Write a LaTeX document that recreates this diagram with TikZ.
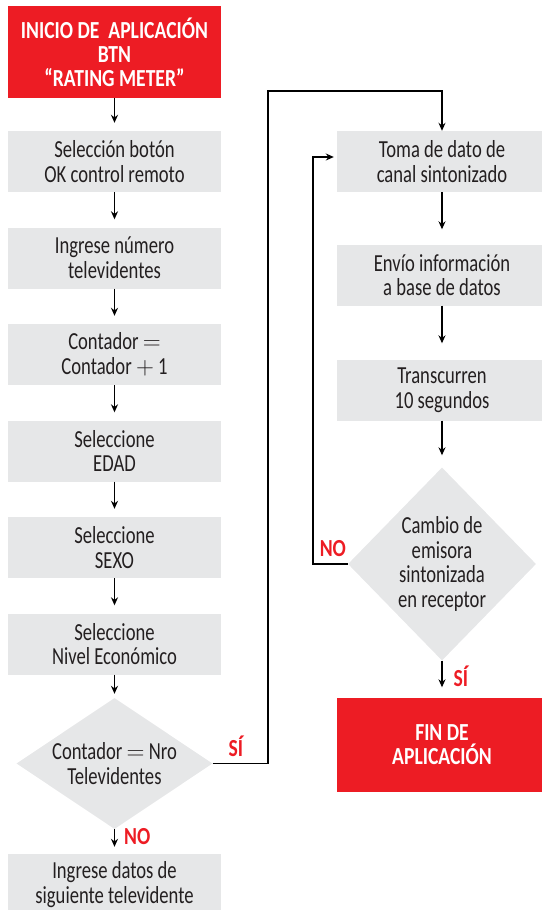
\documentclass[tikz,border=0pt]{standalone}
\usepackage{fontspec}
\setmainfont{Carlito}[FakeStretch=0.76,BoldFeatures={FakeStretch=0.8}]
\usetikzlibrary{positioning,shapes.geometric,arrows.meta}
\definecolor{rojo}{HTML}{ED1C24}
\definecolor{gris}{HTML}{E6E7E8}
\definecolor{tinta}{HTML}{231F20}

\begin{document}
\begin{tikzpicture}[x=1pt,y=1pt,node distance=96.5pt,on grid,
    >={Stealth[length=8pt,width=7pt]},
    every node/.style={font=\fontsize{24.5}{24.6}\selectfont,align=center,text=tinta},
    box/.style={rectangle,fill=gris,minimum width=213pt,minimum height=61pt,inner sep=0pt},
    rbox/.style={box,minimum width=210pt},
    term/.style={rectangle,fill=rojo,text=white,inner sep=0pt,
        font=\fontsize{24.5}{24}\selectfont\bfseries},
    decide/.style={diamond,fill=gris,inner sep=0pt,aspect=1.5,
        minimum width=196pt,minimum height=131pt},
    lab/.style={text=rojo,inner sep=0pt,font=\fontsize{24.5}{24}\selectfont\bfseries},
    flow/.style={->,line width=1.3pt,shorten >=8pt}]
    \useasboundingbox (0,0) rectangle (541,-910);

    % left column
    \node[term,minimum width=213pt,minimum height=92pt] (inicio) at (114.5,-52)
        {INICIO DE\ \ APLICACIÓN\\BTN\\“RATING METER”};
    \node[box] (boton) [below=109.5pt of inicio] {Selección botón\\OK control remoto};
    \node[box] (numero) [below=of boton] {Ingrese número\\televidentes};
    \node[box] (contador) [below=of numero] {Contador $=$\\Contador $+$ 1};
    \node[box] (edad) [below=of contador] {Seleccione\\EDAD};
    \node[box] (sexo) [below=of edad] {Seleccione\\SEXO};
    \node[box] (nivel) [below=of sexo] {Seleccione\\Nivel Económico};
    \node[decide] (igual) [below=119.5pt of nivel] {Contador $=$ Nro\\Televidentes};
    \node[box] (siguiente) [below=121pt of igual] {Ingrese datos de\\siguiente televidente};

    % right column
    \node[rbox] (toma) [right=327.5pt of boton] {Toma de dato de\\canal sintonizado};
    \node[rbox] (envio) [below=113.5pt of toma] {Envío información\\a base de datos};
    \node[rbox] (espera) [below=115pt of envio] {Transcurren\\10 segundos};
    \node[decide,aspect=0.974,minimum width=188pt,minimum height=193pt] (cambio)
        [below=174pt of espera] {Cambio de\\emisora\\sintonizada\\en receptor};
    \node[term,minimum width=210pt,minimum height=94pt] (fin) [below=180.5pt of cambio]
        {FIN DE\\APLICACIÓN};

    \coordinate (sigiro) at (268,-91);
    \coordinate (nogiro) at (313,-157);

    \path[flow]
    (inicio) edge (boton)
    (boton) edge (numero)
    (numero) edge (contador)
    (contador) edge (edad)
    (edad) edge (sexo)
    (sexo) edge (nivel)
    (nivel) edge [shorten >=4pt] (igual)
    (igual) edge [shorten >=7pt] node [lab,right=9pt,yshift=5pt] {NO} (siguiente)
    (toma) edge [shorten >=15pt] (envio)
    (envio) edge [shorten >=16pt] (espera)
    (espera) edge [shorten >=12pt] (cambio)
    (cambio) edge [shorten >=10pt] node [lab,right=11pt,yshift=3pt] {SÍ} (fin);

    \draw[flow,shorten >=0pt] (igual.east)
        -- node [lab,xshift=-4.5pt,yshift=17.5pt] {SÍ} (igual.east -| sigiro)
        -- (sigiro) -| (toma.north);
    \draw[flow,shorten >=3pt] (cambio.west)
        -- node [lab,xshift=2.5pt,yshift=15pt] {NO} (cambio.west -| nogiro)
        -- (nogiro) -- (nogiro -| toma.west);
\end{tikzpicture}
\end{document}
